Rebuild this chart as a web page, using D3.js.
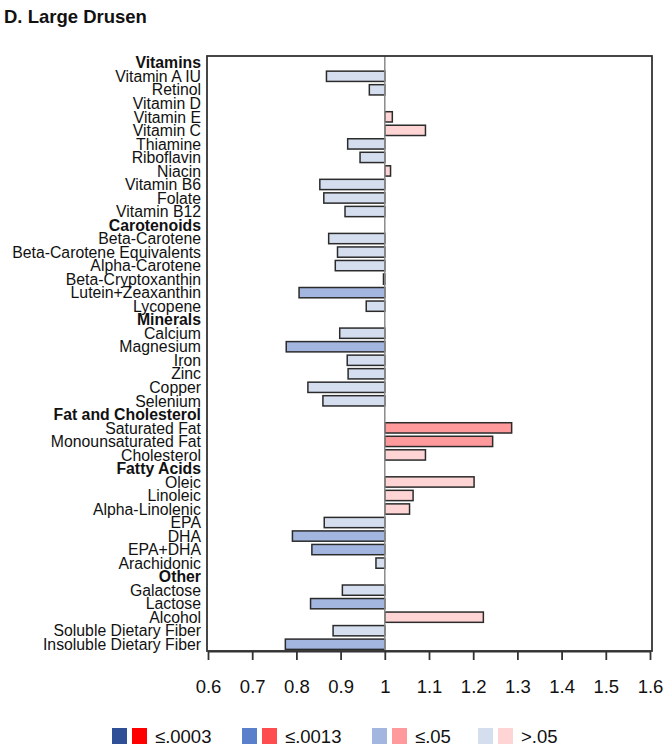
<!DOCTYPE html>
<html>
<head>
<meta charset="utf-8">
<script src="https://cdn.jsdelivr.net/npm/d3@7"></script>
<style>
  html, body { margin: 0; padding: 0; background: #fff; }
  svg { display: block; font-family: "Liberation Sans", Arial, sans-serif; }
</style>
</head>
<body>
<svg id="chart" width="665" height="750"></svg>
<script>
// ---- data ----
const labels = ["Vitamins","Vitamin A IU","Retinol","Vitamin D","Vitamin E","Vitamin C","Thiamine","Riboflavin","Niacin","Vitamin B6","Folate","Vitamin B12",
  "Carotenoids","Beta-Carotene","Beta-Carotene Equivalents","Alpha-Carotene","Beta-Cryptoxanthin","Lutein+Zeaxanthin","Lycopene",
  "Minerals","Calcium","Magnesium","Iron","Zinc","Copper","Selenium",
  "Fat and Cholesterol","Saturated Fat","Monounsaturated Fat","Cholesterol",
  "Fatty Acids","Oleic","Linoleic","Alpha-Linolenic","EPA","DHA","EPA+DHA","Arachidonic",
  "Other","Galactose","Lactose","Alcohol","Soluble Dietary Fiber","Insoluble Dietary Fiber"];
const isHeader = [1,0,0,0,0,0,0,0,0,0,0,0, 1,0,0,0,0,0,0, 1,0,0,0,0,0,0, 1,0,0,0, 1,0,0,0,0,0,0,0, 1,0,0,0,0,0];
// odds ratios (null = header row)
const values = [null,0.868,0.965,1.0,1.017,1.092,0.916,0.944,1.013,0.853,0.862,0.910,
  null,0.873,0.893,0.888,0.997,0.806,0.958,
  null,0.898,0.777,0.915,0.917,0.826,0.860,
  null,1.287,1.244,1.092,
  null,1.202,1.064,1.056,0.863,0.791,0.835,0.980,
  null,0.904,0.832,1.223,0.883,0.775];
// significance level index: 0 = <=.0003, 1 = <=.0013, 2 = <=.05, 3 = >.05
const sigLevel = [null,3,3,3,3,3,3,3,3,3,3,3,
  null,3,3,3,3,2,3,
  null,3,2,3,3,3,3,
  null,2,2,3,
  null,3,3,3,3,2,2,3,
  null,3,2,3,3,2];
const xTicks = [0.6,0.7,0.8,0.9,1.0,1.1,1.2,1.3,1.4,1.5,1.6];
const legendLabels = ["≤.0003","≤.0013","≤.05",">.05"];
const blues = ["#2f5097","#5a7fcb","#a2b6e0","#d4deef"];
const reds  = ["#ff0000","#ff4d4f","#ff9a9c","#ffd4d5"];

// ---- layout ----
const svg = d3.select("#chart");
const pLeft = 208, pRight = 650, pTop = 56, pBottom = 651;

svg.append("text").attr("x", 4).attr("y", 23)
  .attr("font-size", 18.5).attr("font-weight", "bold").attr("fill", "#111")
  .text("D. Large Drusen");

const x = d3.scaleLinear().domain([0.6, 1.6]).range([pLeft, pRight]);
const y = d3.scaleBand().domain(d3.range(labels.length)).range([pTop, pBottom]).paddingInner(0.24).paddingOuter(0.12);

const rows = labels.map((l, i) => ({label: l, header: isHeader[i], v: values[i], s: sigLevel[i], i}));

// bars
svg.append("g").selectAll("rect")
  .data(rows.filter(d => d.v !== null && Math.abs(d.v - 1) > 0.001))
  .join("rect")
  .attr("x", d => Math.min(x(d.v), x(1)))
  .attr("width", d => Math.abs(x(d.v) - x(1)))
  .attr("y", d => y(d.i))
  .attr("height", y.bandwidth())
  .attr("fill", d => d.v < 1 ? blues[d.s] : reds[d.s])
  .attr("stroke", "#2b2b2b")
  .attr("stroke-width", 1.5);

// reference line at 1
svg.append("line")
  .attr("x1", x(1)).attr("x2", x(1)).attr("y1", pTop).attr("y2", pBottom)
  .attr("stroke", "#8a8a8a").attr("stroke-width", 1.5);

// frame
svg.append("rect")
  .attr("x", pLeft - 1).attr("y", pTop).attr("width", pRight - pLeft + 3).attr("height", pBottom - pTop)
  .attr("fill", "none").attr("stroke", "#333").attr("stroke-width", 1.8);

// x axis
const axis = d3.axisBottom(x).tickValues(xTicks).tickSize(9).tickSizeOuter(0)
  .tickFormat(d => d3.format("")(+d.toFixed(1)));
const gx = svg.append("g").attr("transform", `translate(0,${pBottom})`).call(axis);
gx.select(".domain").attr("stroke", "#333").attr("stroke-width", 1.8);
gx.selectAll(".tick line").attr("stroke", "#333").attr("stroke-width", 1.8);
gx.selectAll(".tick text").attr("font-size", 18.5).attr("fill", "#111").attr("dy", 0).attr("y", 42)
  .attr("font-family", "'Liberation Sans', Arial, sans-serif");

// category labels
svg.append("g").selectAll("text")
  .data(rows).join("text")
  .attr("x", pLeft - 7)
  .attr("y", d => y(d.i) + y.bandwidth() / 2)
  .attr("dy", "0.36em")
  .attr("text-anchor", "end")
  .attr("font-size", 15.8)
  .attr("font-weight", d => d.header ? "bold" : "normal")
  .attr("fill", "#111")
  .text(d => d.label);

// legend
const legendX = [112, 242, 372, 478];
const lg = svg.append("g").selectAll("g").data(legendLabels).join("g")
  .attr("transform", (d, i) => `translate(${legendX[i]},728)`);
lg.append("rect").attr("width", 15).attr("height", 16).attr("fill", (d, i) => blues[i]);
lg.append("rect").attr("x", 20).attr("width", 15).attr("height", 16).attr("fill", (d, i) => reds[i]);
lg.append("text").attr("x", 43).attr("y", 8).attr("dy", "0.36em")
  .attr("font-size", 18.5).attr("fill", "#111").text(d => d);
</script>
</body>
</html>
